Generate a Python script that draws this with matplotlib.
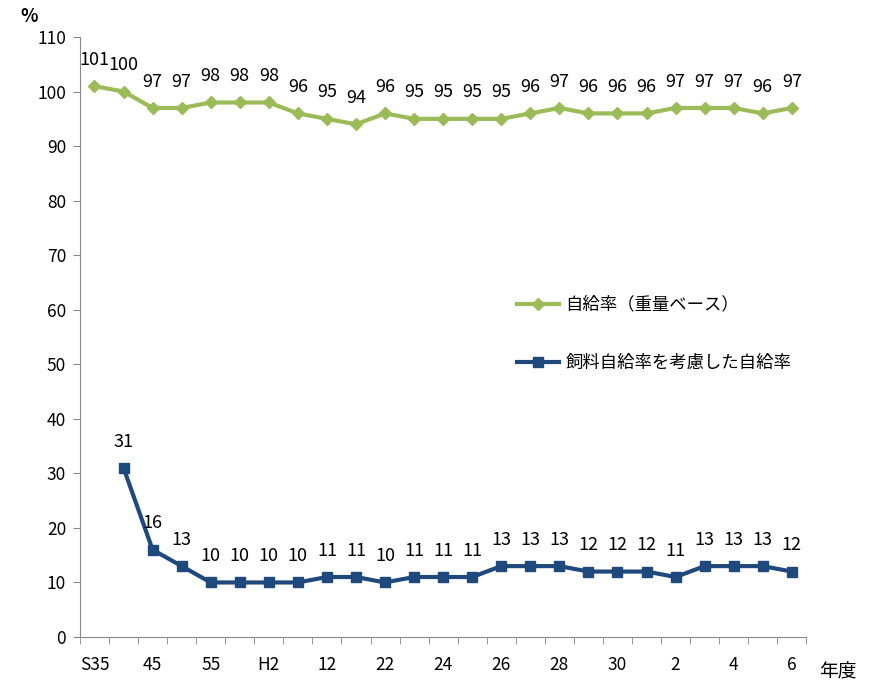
import matplotlib
matplotlib.use('Agg')
from matplotlib import pyplot as plt
import numpy as np

plt.rcParams['font.family'] = ['Noto Sans CJK JP', 'DejaVu Sans']

# data
labels = ['S35', '45', '55', 'H2', '12', '22', '24', '26', '28', '30', '2', '4', '6']
jikyu = [101, 100, 97, 97, 98, 98, 98, 96, 95, 94, 96, 95, 95,
         95, 95, 96, 97, 96, 96, 96, 97, 97, 97, 96, 97]
shiryo = [31, 16, 13, 10, 10, 10, 10, 11, 11, 10, 11, 11,
          11, 13, 13, 13, 12, 12, 12, 11, 13, 13, 13, 12]

green = '#9BBB59'
blue = '#1F497D'

n = len(jikyu)
x1 = np.arange(n)
x2 = np.arange(1, n)

fig = plt.figure(figsize=(8.73, 6.81), dpi=100)
ax = fig.add_axes([0.0916, 0.0646, 0.832, 0.881])

ax.plot(x1, jikyu, color=green, lw=3, marker='D', ms=6, label='自給率（重量ベース）')
ax.plot(x2, shiryo, color=blue, lw=3, marker='s', ms=7.5, label='飼料自給率を考慮した自給率')

for x, v in zip(x1, jikyu):
    ax.annotate(str(v), (x, v), xytext=(0, 19), textcoords='offset points',
                ha='center', va='center', fontsize=13, color='black')
for x, v in zip(x2, shiryo):
    ax.annotate(str(v), (x, v), xytext=(0, 19), textcoords='offset points',
                ha='center', va='center', fontsize=13, color='black')

ax.set_xlim(-0.5, n - 0.5)
ax.set_ylim(0, 110)
ax.set_yticks(range(0, 111, 10))
ax.set_xticks(np.arange(0, n, 2))
ax.set_xticklabels(labels)
ax.set_xticks(np.arange(-0.5, n, 1), minor=True)
ax.tick_params(axis='x', which='major', length=0, pad=14, labelsize=12.5)
ax.tick_params(axis='x', which='minor', length=5, color='#888888')
ax.tick_params(axis='y', length=5, color='#888888', labelsize=12.5, pad=5)

for s in ['top', 'right']:
    ax.spines[s].set_visible(False)
for s in ['left', 'bottom']:
    ax.spines[s].set_color('#888888')

fig.text(20 / 873, 1 - 17 / 681, '%', fontsize=13, fontweight='bold', ha='left', va='center')
fig.text(838 / 873, 1 - 672 / 681, '年度', fontsize=13.5, ha='center', va='center')

ax.legend(loc='upper left', bbox_to_anchor=(0.58, 0.595), frameon=False,
          fontsize=12.5, handlelength=2.4, labelspacing=2.3, handletextpad=0.4)

fig.savefig('out.png', dpi=100)
